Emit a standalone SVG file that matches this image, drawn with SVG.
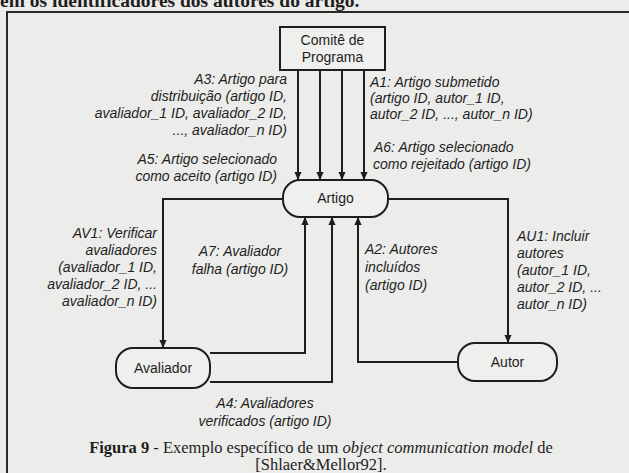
<svg xmlns="http://www.w3.org/2000/svg" width="629" height="473" viewBox="0 0 629 473">
  <defs>
    <marker id="arr" viewBox="0 0 10 10" refX="10" refY="5" markerWidth="8" markerHeight="8" markerUnits="userSpaceOnUse" orient="auto">
      <path d="M0,0.5 L10,5 L0,9.5 z" fill="#1e1e1e"/>
    </marker>
    <style>
      .bg { fill: #ececea; }
      .frame { fill: none; stroke: #2a2a2a; stroke-width: 2; }
      .node { fill: #efefed; stroke: #1e1e1e; stroke-width: 2; }
      .ntext { font-family: "Liberation Sans", Arial, sans-serif; font-size: 14px; fill: #1e1e1e; text-anchor: middle; }
      .lbl { font-family: "Liberation Sans", Arial, sans-serif; font-size: 14px; font-style: italic; fill: #1e1e1e; }
      .end { text-anchor: end; }
      .mid { text-anchor: middle; }
      .conn path { fill: none; stroke: #1e1e1e; stroke-width: 2; marker-end: url(#arr); }
      .cap { font-family: "Liberation Serif", "Times New Roman", serif; font-size: 16.5px; fill: #1e1e1e; text-anchor: middle; }
      .top { font-family: "Liberation Serif", "Times New Roman", serif; font-size: 19.5px; font-weight: bold; fill: #1e1e1e; }
    </style>
  </defs>

  <rect class="bg" x="0" y="0" width="629" height="473"/>
  <text class="top" x="0" y="7">em os identificadores dos autores do artigo.</text>
  <path class="frame" d="M7,480 V12 H640"/>

  <g id="connectors" class="conn">
    <path d="M298,70 V180"/>
    <path d="M320,70 V180"/>
    <path d="M342,70 V180"/>
    <path d="M364,70 V180"/>
    <path d="M283,199 H163 V348"/>
    <path d="M388,199 H508 V343"/>
    <path d="M210,353 H305 V217"/>
    <path d="M210,382 H332 V217"/>
    <path d="M458,362 H358 V217"/>
  </g>

  <g id="comite">
    <rect class="node" x="280" y="27" width="105" height="43"/>
    <text class="ntext" x="332.5" y="45">Comitê de</text>
    <text class="ntext" x="332.5" y="62">Programa</text>
  </g>
  <g id="artigo">
    <rect class="node" x="283" y="180" width="105" height="37" rx="17" ry="17"/>
    <text class="ntext" x="335.5" y="203">Artigo</text>
  </g>
  <g id="avaliador">
    <rect class="node" x="116" y="348" width="94" height="40" rx="17" ry="17"/>
    <text class="ntext" x="163" y="373">Avaliador</text>
  </g>
  <g id="autor">
    <rect class="node" x="458" y="343" width="99" height="38" rx="17" ry="17"/>
    <text class="ntext" x="507.5" y="367">Autor</text>
  </g>

  <g id="labels">
    <text class="lbl end" x="287" y="84">A3: Artigo para</text>
    <text class="lbl end" x="287" y="101">distribuição (artigo ID,</text>
    <text class="lbl end" x="287" y="118">avaliador_1 ID, avaliador_2 ID,</text>
    <text class="lbl end" x="287" y="135">..., avaliador_n ID)</text>

    <text class="lbl end" x="277" y="164">A5: Artigo selecionado</text>
    <text class="lbl end" x="277" y="181">como aceito (artigo ID)</text>

    <text class="lbl" x="370" y="87">A1: Artigo submetido</text>
    <text class="lbl" x="370" y="103">(artigo ID, autor_1 ID,</text>
    <text class="lbl" x="370" y="119">autor_2 ID, ..., autor_n ID)</text>

    <text class="lbl" x="374" y="152">A6: Artigo selecionado</text>
    <text class="lbl" x="373" y="169">como rejeitado (artigo ID)</text>

    <text class="lbl end" x="157" y="238">AV1: Verificar</text>
    <text class="lbl end" x="157" y="255">avaliadores</text>
    <text class="lbl end" x="157" y="272">(avaliador_1 ID,</text>
    <text class="lbl end" x="157" y="289">avaliador_2 ID, ...</text>
    <text class="lbl end" x="157" y="306">avaliador_n ID)</text>

    <text class="lbl mid" x="240" y="256">A7: Avaliador</text>
    <text class="lbl mid" x="240" y="274">falha (artigo ID)</text>

    <text class="lbl" x="365" y="254">A2: Autores</text>
    <text class="lbl" x="365" y="272">incluídos</text>
    <text class="lbl" x="365" y="290">(artigo ID)</text>

    <text class="lbl" x="517" y="241">AU1: Incluir</text>
    <text class="lbl" x="517" y="258">autores</text>
    <text class="lbl" x="517" y="275">(autor_1 ID,</text>
    <text class="lbl" x="517" y="292">autor_2 ID, ...</text>
    <text class="lbl" x="517" y="309">autor_n ID)</text>

    <text class="lbl mid" x="265" y="408">A4: Avaliadores</text>
    <text class="lbl mid" x="265" y="426">verificados (artigo ID)</text>
  </g>

  <g id="caption">
    <text class="cap" x="321" y="453"><tspan font-weight="bold">Figura 9</tspan> - Exemplo específico de um <tspan font-style="italic">object communication model</tspan> de</text>
    <text class="cap" x="321" y="470">[Shlaer&amp;Mellor92].</text>
  </g>
</svg>
